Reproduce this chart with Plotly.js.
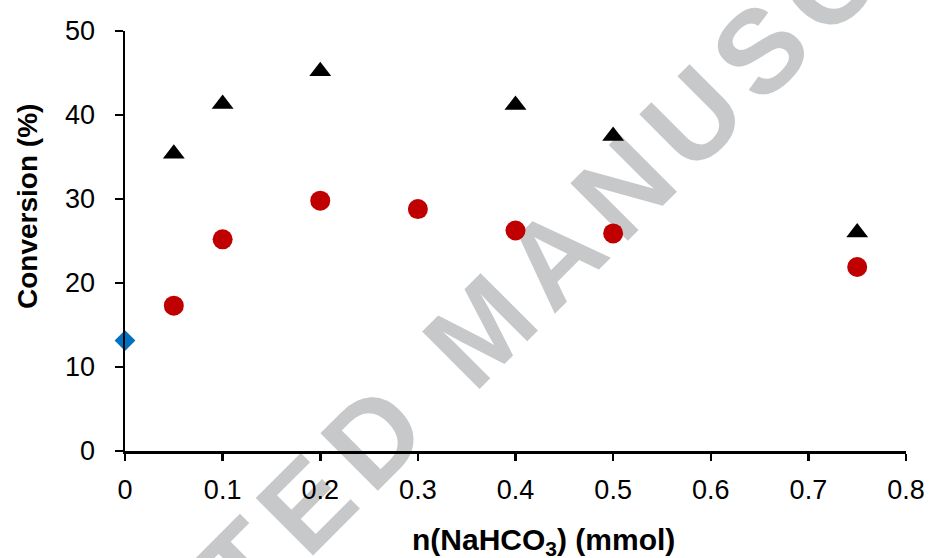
<!DOCTYPE html>
<html>
<head>
<meta charset="utf-8">
<script src="https://cdn.plot.ly/plotly-3.0.1.min.js"></script>
<style>html,body{margin:0;padding:0;background:#fff;}#chart{width:929px;height:558px;}</style>
</head>
<body>
<div id="chart"></div>
<script>
// Data
const xTriangle = [0.05, 0.1, 0.2, 0.4, 0.5, 0.75];
const yTriangle = [35.4, 41.3, 45.2, 41.2, 37.5, 26.0];
const xCircle = [0.05, 0.1, 0.2, 0.3, 0.4, 0.5, 0.75];
const yCircle = [17.3, 25.2, 29.8, 28.8, 26.25, 25.9, 21.9];
const xDiamond = [0];
const yDiamond = [13.15];
const xTickVals = [0, 0.1, 0.2, 0.3, 0.4, 0.5, 0.6, 0.7, 0.8];
const xTickText = ['0', '0.1', '0.2', '0.3', '0.4', '0.5', '0.6', '0.7', '0.8'];
const yTickVals = [0, 10, 20, 30, 40, 50];
const xTitle = 'n(NaHCO<sub>3</sub>) (mmol)';
const yTitle = 'Conversion (%)';
const watermark = 'ACCEPTED MANUSCRIPT';

const font = 'Liberation Sans, Arial, sans-serif';

const traces = [
  {x: xTriangle, y: yTriangle, type: 'scatter', mode: 'markers',
   marker: {symbol: 'triangle-up', size: 19, color: '#000000'}, cliponaxis: false},
  {x: xCircle, y: yCircle, type: 'scatter', mode: 'markers',
   marker: {symbol: 'circle', size: 20, color: '#C00000'}, cliponaxis: false},
  {x: xDiamond, y: yDiamond, type: 'scatter', mode: 'markers',
   marker: {symbol: 'diamond', size: 16, color: '#0070C0'}, cliponaxis: false}
];

const wx = (479 - 125) / 781, wy = (451 - 316) / 420;

const layout = {
  width: 929, height: 558,
  margin: {l: 125, r: 23, t: 31, b: 107},
  paper_bgcolor: '#ffffff', plot_bgcolor: 'rgba(0,0,0,0)',
  showlegend: false,
  font: {family: font, color: '#000000'},
  xaxis: {
    range: [0, 0.8], tickvals: xTickVals, ticktext: xTickText,
    showgrid: false, zeroline: false,
    showline: true, linecolor: '#000000', linewidth: 2.5,
    ticks: 'outside', ticklen: 7, tickwidth: 2.5, tickcolor: '#000000',
    tickfont: {family: font, size: 27, color: '#000000'},
    ticklabelstandoff: 6
  },
  yaxis: {
    range: [0, 50], tickvals: yTickVals,
    showgrid: false, zeroline: false,
    showline: true, linecolor: '#000000', linewidth: 2.5,
    ticks: 'outside', ticklen: 8, tickwidth: 2.5, tickcolor: '#000000',
    tickfont: {family: font, size: 27, color: '#000000'},
    ticklabelstandoff: 14
  },
  annotations: [
    {text: xTitle, xref: 'paper', yref: 'paper', x: (543 - 125) / 781, y: -(541 - 451) / 420,
     xanchor: 'center', yanchor: 'middle', showarrow: false,
     font: {family: font, size: 30, color: '#000000', weight: 'bold'}},
    {text: yTitle, xref: 'paper', yref: 'paper', x: (28 - 125) / 781, y: (451 - 207) / 420,
     xanchor: 'center', yanchor: 'middle', showarrow: false, textangle: -90,
     font: {family: font, size: 28, color: '#000000', weight: 'bold'}}
  ],
  shapes: [
    {type: 'rect', xref: 'paper', yref: 'paper', layer: 'below',
     x0: wx - 0.01, x1: wx + 0.01, y0: wy - 0.01, y1: wy + 0.01,
     line: {width: 0}, fillcolor: 'rgba(0,0,0,0)',
     label: {text: watermark, textangle: -45, textposition: 'middle center',
             font: {family: font, size: 118, color: '#C7C8CA', weight: 'bold'}}}
  ]
};

Plotly.newPlot('chart', traces, layout, {displayModeBar: false, staticPlot: true}).then(function () {
  document.querySelectorAll('#chart text').forEach(function (t) {
    if (t.textContent.indexOf('ACCEPTED') >= 0) { t.style.letterSpacing = '13px'; }
  });
});
</script>
</body>
</html>
